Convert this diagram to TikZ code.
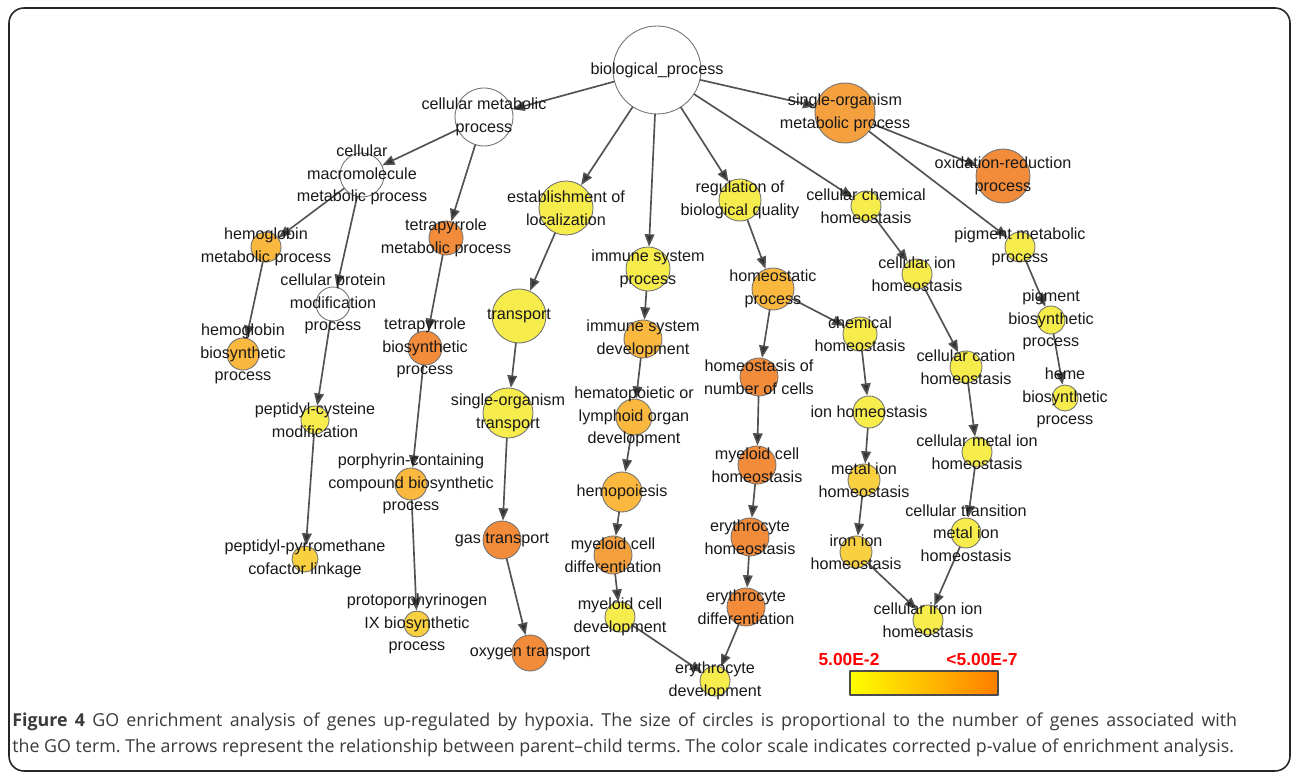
\documentclass[tikz,border=0pt]{standalone}
\usepackage{fontspec}
\setmainfont{Liberation Sans}
\newfontfamily\capfont{Open Sans}
\usetikzlibrary{arrows.meta}
\definecolor{oD}{HTML}{F28C3A}
\definecolor{oM}{HTML}{F4A03E}
\definecolor{oL}{HTML}{FBB83E}
\definecolor{gd}{HTML}{F9D040}
\definecolor{yl}{HTML}{F6EC4C}
\definecolor{capgray}{HTML}{3A3A3A}
% name/x/y/radius/colour/label (pixel units)
\def\terms{bp/657/70/44/white/{biological\_process},
cmp/484/117/29/white/{cellular metabolic\\process},
somp/845/113/30/oM/{single-organism\\metabolic process},
orp/1003/176/27/oD/{oxidation-reduction\\process},
cmmp/362/175/22/white/{cellular\\macromolecule\\metabolic process},
hmp/266/247/15/oL/{hemoglobin\\metabolic process},
tmp/446/238/17/oD/{tetrapyrrole\\metabolic process},
est/566/208/27/yl/{establishment of\\localization},
rbq/740/200/21/yl/{regulation of\\biological quality},
cch/866/206/15/yl/{cellular chemical\\homeostasis},
pmp/1020/247/15/yl/{pigment metabolic\\process},
isp/648/269/22/yl/{immune system\\process},
hsp/773/289/21/oL/{homeostatic\\process},
cih/917/274/15/yl/{cellular ion\\homeostasis},
pbp/1051/320/14/yl/{pigment\\biosynthetic\\process},
tr/519/316/27/yl/{transport},
isd/643/339/19/oL/{immune system\\development},
chh/860/334/17/yl/{chemical\\homeostasis},
ccat/966/367/16/yl/{cellular cation\\homeostasis},
hbp/1065/398/13/yl/{heme\\biosynthetic\\process},
hgbp/243/354/16/oL/{hemoglobin\\biosynthetic\\process},
cpmp/333/304/17/white/{cellular protein\\modification\\process},
tbp/425/348/17/oD/{tetrapyrrole\\biosynthetic\\process},
sot/508/413/25/yl/{single-organism\\transport},
hold/634/417/18/oL/{hematopoietic or\\lymphoid organ\\development},
hnc/759/377/19/oD/{homeostasis of\\number of cells},
ionh/869/412/16/yl/{ion homeostasis},
cmih/977/452/15/yl/{cellular metal ion\\homeostasis},
pcm/315/420/14/yl/{peptidyl-cysteine\\modification},
pcbp/411/484/16/oL/{porphyrin-containing\\compound biosynthetic\\process},
hemo/622/492/20/oL/{hemopoiesis},
mch/757/465/19/oD/{myeloid cell\\homeostasis},
mih/864/480/16/gd/{metal ion\\homeostasis},
ctmih/966/533/15/yl/{cellular transition\\metal ion\\homeostasis},
gas/502/540/19/oD/{gas transport},
ppcl/305/559/13/gd/{peptidyl-pyrromethane\\cofactor linkage},
mcd/613/555/19/oM/{myeloid cell\\differentiation},
eh/750/537/19/oD/{erythrocyte\\homeostasis},
iih/856/552/16/gd/{iron ion\\homeostasis},
ppix/417/624/13/gd/{protoporphyrinogen\\IX biosynthetic\\process},
mcdev/620/617/15/yl/{myeloid cell\\development},
ed/746/607/19/oD/{erythrocyte\\differentiation},
oxy/530/653/18/oD/{oxygen transport},
ciih/928/620/15/yl/{cellular iron ion\\homeostasis},
edev/715/681/15/yl/{erythrocyte\\development}}
\begin{document}
\begin{tikzpicture}[x=0.02cm, y=-0.02cm, line join=round, line cap=round,
	term/.style={circle, draw=black!55, line width=0.5pt, inner sep=0pt, minimum size=#1*0.4mm},
	lbl/.style={align=center, text=black!90, inner sep=0pt, font=\fontsize{9.2}{12.8}\selectfont},
	edge/.style={draw=black!68, line width=0.95pt, -{Triangle[length=7pt,width=5.5pt,fill=black!80]}}]
	\useasboundingbox (0,0) rectangle (1292,773);
	\draw[black!85, line width=0.9pt, rounded corners=0.3cm] (9,8) rectangle (1290,771);
	\foreach \n/\x/\y/\r/\c/\t in \terms{
		\node[term=\r, fill=\c] (\n) at (\x,\y) {};
	}
	\foreach \a/\b in {bp/cmp, bp/somp, bp/est, bp/isp, bp/rbq, bp/cch, cmp/cmmp, cmp/tmp,
		somp/orp, somp/pmp, cmmp/hmp, cmmp/cpmp, hmp/hgbp, tmp/tbp, cpmp/pcm, pcm/ppcl,
		tbp/pcbp, pcbp/ppix, est/tr, tr/sot, sot/gas, gas/oxy, isp/isd, isd/hold, hold/hemo,
		hemo/mcd, mcd/mcdev, mcdev/edev, rbq/hsp, hsp/hnc, hsp/chh, hnc/mch, mch/eh, eh/ed,
		ed/edev, chh/ionh, ionh/mih, mih/iih, iih/ciih, cch/cih, cih/ccat, ccat/cmih,
		cmih/ctmih, ctmih/ciih, pmp/pbp, pbp/hbp}{
		\draw[edge] (\a) -- (\b);
	}
	\foreach \n/\x/\y/\r/\c/\t in \terms{
		\node[lbl] (\n-t) at (\n) {\t};
	}
	% colour scale
	\shade[left color={rgb,255:red,255;green,255;blue,0}, right color={rgb,255:red,255;green,125;blue,0}]
		(850,671) rectangle (998,695);
	\draw[black!70, line width=0.6pt] (850,671) rectangle (998,695);
	\node[text=red, font=\fontsize{9.9}{12}\selectfont\bfseries] (lo) at (849,660) {5.00E-2};
	\node[text=red, font=\fontsize{9.9}{12}\selectfont\bfseries] (hi) at (982,660) {<5.00E-7};
	% caption
	\node[anchor=north west, inner sep=0pt, text=capgray, text width=24.5cm, align=justify,
		font=\capfont\fontsize{10.15}{14.6}\selectfont\frenchspacing] (cap) at (12,713)
		{\textbf{Figure 4} GO enrichment analysis of genes up-regulated by hypoxia. The size of circles is proportional to the number of genes associated with\linebreak
		\mbox{the GO term. The arrows represent the relationship between parent–child terms. The color scale indicates corrected p-value of enrichment analysis.}};
\end{tikzpicture}
\end{document}
